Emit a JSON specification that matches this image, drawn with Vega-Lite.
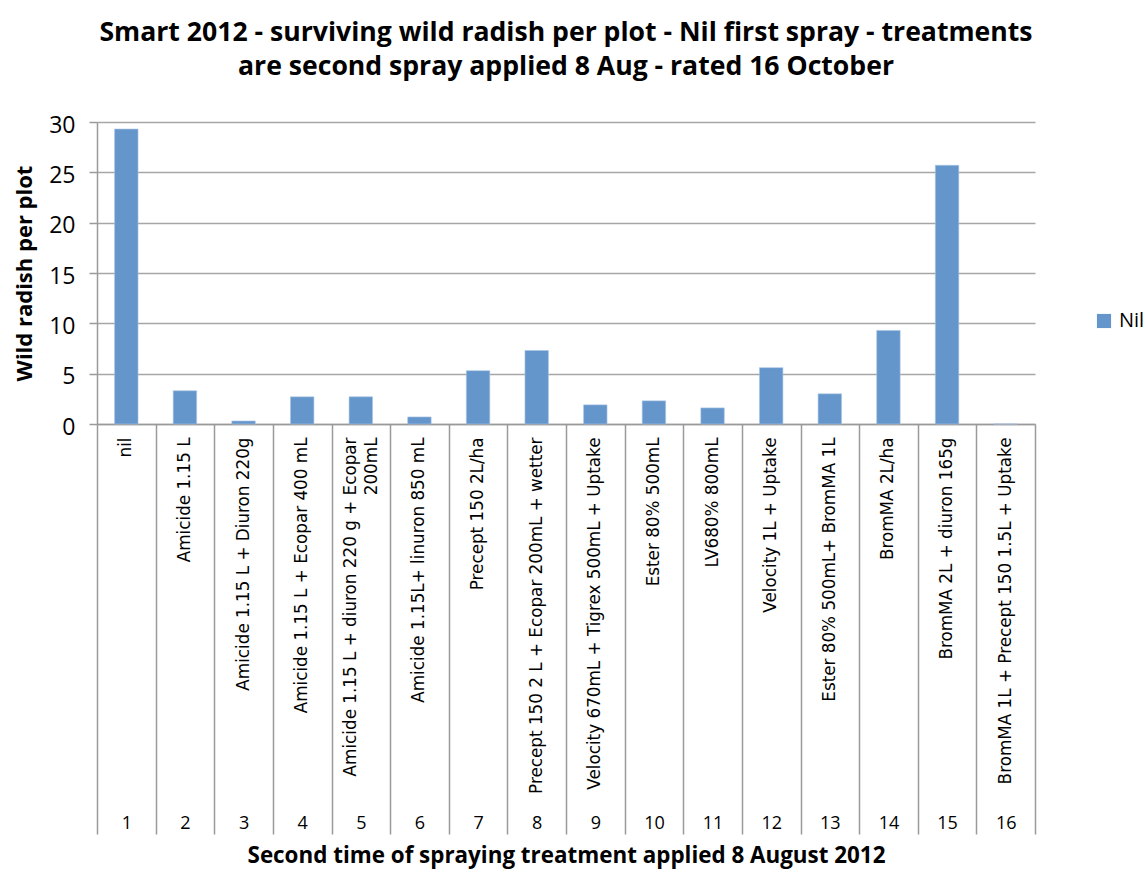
{
  "$schema": "https://vega.github.io/schema/vega-lite/v6.json",
  "width": 938,
  "height": 302,
  "autosize": "none",
  "padding": {"left": 97, "top": 122, "right": 109, "bottom": 446},
  "config": {"font": "Open Sans", "view": {"stroke": null}},
  "title": {
    "text": ["Smart 2012 - surviving wild radish per plot - Nil first spray - treatments", "are second spray applied 8 Aug - rated 16 October"],
    "fontSize": 26.6,
    "fontWeight": "bold",
    "font": "Open Sans",
    "color": "black",
    "anchor": "middle",
    "offset": 33,
    "lineHeight": 34
  },
  "data": {
    "values": [
      {"num": 1, "treatment": "nil", "value": 29.3, "series": "Nil"},
      {"num": 2, "treatment": "Amicide 1.15 L", "value": 3.3, "series": "Nil"},
      {"num": 3, "treatment": "Amicide 1.15 L + Diuron 220g", "value": 0.3, "series": "Nil"},
      {"num": 4, "treatment": "Amicide 1.15 L + Ecopar 400 mL", "value": 2.7, "series": "Nil"},
      {"num": 5, "treatment": "Amicide 1.15 L + diuron 220 g + Ecopar\n200mL", "value": 2.7, "series": "Nil"},
      {"num": 6, "treatment": "Amicide 1.15L+ linuron 850 mL", "value": 0.7, "series": "Nil"},
      {"num": 7, "treatment": "Precept 150 2L/ha", "value": 5.3, "series": "Nil"},
      {"num": 8, "treatment": "Precept 150 2 L + Ecopar 200mL + wetter", "value": 7.3, "series": "Nil"},
      {"num": 9, "treatment": "Velocity 670mL + Tigrex 500mL + Uptake", "value": 1.9, "series": "Nil"},
      {"num": 10, "treatment": "Ester 80% 500mL", "value": 2.3, "series": "Nil"},
      {"num": 11, "treatment": "LV680% 800mL", "value": 1.6, "series": "Nil"},
      {"num": 12, "treatment": "Velocity 1L + Uptake", "value": 5.6, "series": "Nil"},
      {"num": 13, "treatment": "Ester 80% 500mL+ BromMA 1L", "value": 3.0, "series": "Nil"},
      {"num": 14, "treatment": "BromMA 2L/ha", "value": 9.3, "series": "Nil"},
      {"num": 15, "treatment": "BromMA 2L + diuron 165g", "value": 25.7, "series": "Nil"},
      {"num": 16, "treatment": "BromMA 1L + Precept 150 1.5L + Uptake", "value": 0, "series": "Nil"}
    ]
  },
  "encoding": {
    "y": {
      "field": "value",
      "type": "quantitative",
      "scale": {"domain": [0, 30]},
      "axis": {
        "title": "Wild radish per plot",
        "titleFont": "Open Sans",
        "titleFontSize": 22,
        "titleFontWeight": "bold",
        "titleColor": "black",
        "titlePadding": 12,
        "values": [0, 5, 10, 15, 20, 25, 30],
        "labelFont": "Open Sans",
        "labelFontSize": 23,
        "labelColor": "black",
        "labelPadding": 14,
        "labelOffset": 3,
        "tickSize": 8,
        "tickColor": "#9a9a9a",
        "tickWidth": 1.5,
        "domainColor": "#9a9a9a",
        "domainWidth": 1.5,
        "gridColor": "#a6a6a6",
        "gridWidth": 1.5
      }
    }
  },
  "layer": [
    {
      "mark": {"type": "bar", "stroke": "#a9c4e4", "strokeWidth": 0.6},
      "encoding": {
        "x": {
          "field": "treatment",
          "type": "nominal",
          "sort": {"field": "num", "op": "min"},
          "scale": {"paddingInner": 0.6, "paddingOuter": 0.3},
          "axis": {
            "orient": "bottom",
            "title": null,
            "labelAngle": 270,
            "labelAlign": "right",
            "labelBaseline": "middle",
            "labelPadding": 13,
            "labelOffset": {"condition": {"test": "indexof(datum.value, '\\n') >= 0", "value": -10}, "value": 0},
            "ticks": false,
            "domainColor": "#9a9a9a",
            "domainWidth": 1.5,
            "labelFont": "DejaVu Sans",
            "labelFontSize": 16.8,
            "labelColor": "black",
            "labelLimit": 500,
            "labelLineHeight": 21,
            "labelExpr": "split(datum.label, '\\n')"
          }
        },
        "color": {
          "field": "series",
          "type": "nominal",
          "scale": {"range": ["#6496cb"]},
          "legend": {
            "title": null,
            "orient": "none",
            "legendX": 997,
            "legendY": 189,
            "symbolType": "square",
            "symbolSize": 200,
            "symbolStrokeWidth": 0,
            "labelFont": "Open Sans",
            "labelFontSize": 20,
            "labelColor": "black",
            "labelOffset": 5
          }
        }
      }
    },
    {
      "mark": {"type": "bar", "opacity": 0},
      "encoding": {
        "x": {
          "field": "num",
          "type": "ordinal",
          "scale": {"paddingInner": 0, "paddingOuter": 0},
          "axis": {
            "orient": "bottom",
            "title": "Second time of spraying treatment applied 8 August 2012",
            "titleFont": "Open Sans",
            "titleFontSize": 22.4,
            "titleFontWeight": "bold",
            "titleColor": "black",
            "titleBaseline": "alphabetic",
            "titleY": 438,
            "labelAngle": 0,
            "labelAlign": "center",
            "labelBaseline": "top",
            "labelFont": "Open Sans",
            "labelFontSize": 18,
            "labelColor": "black",
            "labelPadding": -20,
            "tickBand": "extent",
            "tickSize": 410,
            "tickColor": "#9a9a9a",
            "tickWidth": 1.5,
            "domain": false
          }
        }
      }
    }
  ],
  "resolve": {"scale": {"x": "independent"}, "axis": {"x": "independent"}}
}
